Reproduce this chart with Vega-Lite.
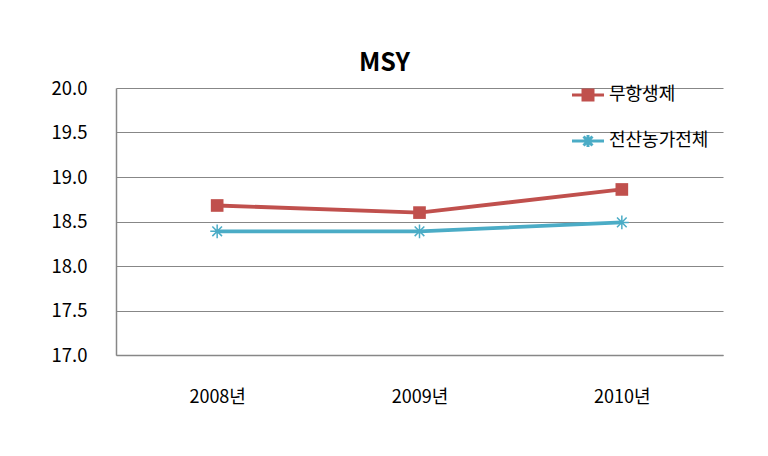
{
  "$schema": "https://vega.github.io/schema/vega-lite/v6.json",
  "autosize": "none",
  "width": 607,
  "height": 267,
  "padding": {"left": 116, "top": 88, "right": 45, "bottom": 101},
  "background": "white",
  "config": {
    "font": "Noto Sans CJK KR",
    "view": {"stroke": null}
  },
  "title": {
    "text": "MSY",
    "fontSize": 25,
    "fontWeight": "bold",
    "color": "#000000",
    "anchor": "middle",
    "frame": "group",
    "dx": -35,
    "offset": 3
  },
  "data": {
    "values": [
      {"year": "2008년", "series": "무항생제", "value": 18.68},
      {"year": "2009년", "series": "무항생제", "value": 18.60},
      {"year": "2010년", "series": "무항생제", "value": 18.86},
      {"year": "2008년", "series": "전산농가전체", "value": 18.39},
      {"year": "2009년", "series": "전산농가전체", "value": 18.39},
      {"year": "2010년", "series": "전산농가전체", "value": 18.49}
    ]
  },
  "encoding": {
    "x": {
      "field": "year",
      "type": "nominal",
      "sort": null,
      "scale": {"type": "point", "padding": 0.5},
      "axis": {
        "title": null,
        "labelAngle": 0,
        "labelFontSize": 18,
        "labelColor": "#000000",
        "labelPadding": 33,
        "labelBaseline": "top",
        "ticks": false,
        "domainColor": "#878787",
        "domainWidth": 1.5,
        "grid": false
      }
    },
    "y": {
      "field": "value",
      "type": "quantitative",
      "scale": {"domain": [17, 20], "nice": false, "zero": false},
      "axis": {
        "title": null,
        "values": [17, 17.5, 18, 18.5, 19, 19.5, 20],
        "format": ".1f",
        "labelFontSize": 18.5,
        "labelColor": "#000000",
        "labelPadding": 29,
        "ticks": false,
        "domainColor": "#878787",
        "domainWidth": 1.5,
        "grid": true,
        "gridColor": "#878787",
        "gridWidth": 1.2
      }
    }
  },
  "layer": [
    {
      "mark": {"type": "line", "strokeWidth": 3.8},
      "encoding": {
        "color": {
          "field": "series",
          "type": "nominal",
          "scale": {"domain": ["무항생제", "전산농가전체"], "range": ["#C0504D", "#4BACC6"]},
          "legend": {
            "title": null,
            "orient": "none",
            "legendX": 463,
            "legendY": -2,
            "padding": 0,
            "labelFontSize": 18,
            "labelColor": "#000000",
            "labelOffset": 12,
            "rowPadding": 22,
            "symbolSize": 164,
            "symbolStrokeWidth": 3,
            "encode": {
              "symbols": {
                "update": {
                  "shape": {"signal": "datum.value == '무항생제' ? 'M-2.5,0L2.5,0M-0.78,-0.78L0.78,-0.78L0.78,0.78L-0.78,0.78Z' : 'M-2.5,0L2.5,0M0,-0.95L0,0.95M-0.7,-0.7L0.7,0.7M-0.7,0.7L0.7,-0.7'"},
                  "fill": {"signal": "scale('color', datum.value)"},
                  "stroke": {"signal": "scale('color', datum.value)"},
                  "strokeWidth": {"value": 3},
                  "opacity": {"value": 1}
                }
              }
            }
          }
        }
      }
    },
    {
      "transform": [{"filter": "datum.series == '무항생제'"}],
      "mark": {"type": "point", "shape": "square", "filled": true, "color": "#C0504D", "size": 160, "opacity": 1}
    },
    {
      "transform": [{"filter": "datum.series == '전산농가전체'"}],
      "mark": {"type": "point", "shape": "M-1,0L1,0M0,-1L0,1M-0.7,-0.7L0.7,0.7M-0.7,0.7L0.7,-0.7", "filled": false, "color": "#4BACC6", "strokeWidth": 1.5, "size": 190, "opacity": 1}
    }
  ]
}
